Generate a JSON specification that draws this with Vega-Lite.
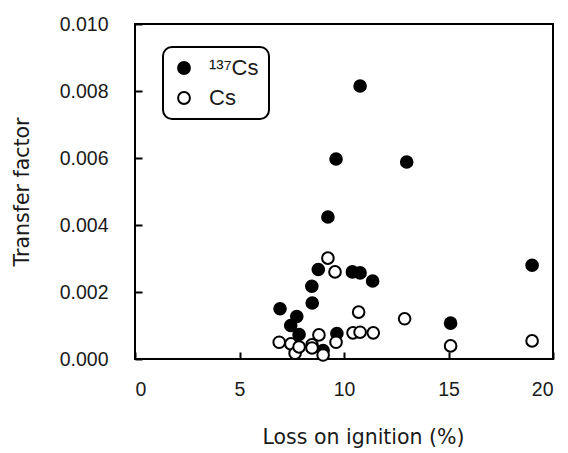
{
  "$schema": "https://vega.github.io/schema/vega-lite/v6.json",
  "width": 418,
  "height": 335,
  "autosize": "none",
  "padding": {"left": 135, "top": 24, "right": 15, "bottom": 94},
  "background": "white",
  "config": {
    "font": "Liberation Sans",
    "view": {"stroke": "black", "strokeWidth": 2},
    "legend": {"strokeWidth": 2},
    "axis": {"grid": false, "domain": false, "ticks": true, "tickColor": "black", "tickSize": -7, "tickWidth": 2,
      "labelFont": "Liberation Sans", "labelFontSize": 19.5, "labelColor": "#1a1a1a", "titleFont": "DejaVu Sans", "titleFontSize": 20.5, "titleFontWeight": "normal", "titleColor": "#1a1a1a"}
  },
  "data": {"values": [
    {"loi": 6.94, "tf": 0.00150, "nuclide": "¹³⁷Cs"},
    {"loi": 7.45, "tf": 0.00100, "nuclide": "¹³⁷Cs"},
    {"loi": 7.74, "tf": 0.00127, "nuclide": "¹³⁷Cs"},
    {"loi": 7.85, "tf": 0.00073, "nuclide": "¹³⁷Cs"},
    {"loi": 8.46, "tf": 0.00217, "nuclide": "¹³⁷Cs"},
    {"loi": 8.48, "tf": 0.00167, "nuclide": "¹³⁷Cs"},
    {"loi": 8.77, "tf": 0.00267, "nuclide": "¹³⁷Cs"},
    {"loi": 9.0, "tf": 0.00025, "nuclide": "¹³⁷Cs"},
    {"loi": 9.23, "tf": 0.00424, "nuclide": "¹³⁷Cs"},
    {"loi": 9.62, "tf": 0.00597, "nuclide": "¹³⁷Cs"},
    {"loi": 9.66, "tf": 0.00076, "nuclide": "¹³⁷Cs"},
    {"loi": 10.4, "tf": 0.00260, "nuclide": "¹³⁷Cs"},
    {"loi": 10.77, "tf": 0.00257, "nuclide": "¹³⁷Cs"},
    {"loi": 10.77, "tf": 0.00815, "nuclide": "¹³⁷Cs"},
    {"loi": 11.37, "tf": 0.00233, "nuclide": "¹³⁷Cs"},
    {"loi": 13.0, "tf": 0.00588, "nuclide": "¹³⁷Cs"},
    {"loi": 15.1, "tf": 0.00107, "nuclide": "¹³⁷Cs"},
    {"loi": 19.0, "tf": 0.00280, "nuclide": "¹³⁷Cs"},
    {"loi": 6.9, "tf": 0.00050, "nuclide": "Cs"},
    {"loi": 7.46, "tf": 0.00045, "nuclide": "Cs"},
    {"loi": 7.66, "tf": 0.00017, "nuclide": "Cs"},
    {"loi": 7.85, "tf": 0.00036, "nuclide": "Cs"},
    {"loi": 8.47, "tf": 0.00042, "nuclide": "Cs"},
    {"loi": 8.47, "tf": 0.00033, "nuclide": "Cs"},
    {"loi": 8.8, "tf": 0.00072, "nuclide": "Cs"},
    {"loi": 9.0, "tf": 0.00012, "nuclide": "Cs"},
    {"loi": 9.23, "tf": 0.00301, "nuclide": "Cs"},
    {"loi": 9.57, "tf": 0.00260, "nuclide": "Cs"},
    {"loi": 9.62, "tf": 0.00050, "nuclide": "Cs"},
    {"loi": 10.43, "tf": 0.00078, "nuclide": "Cs"},
    {"loi": 10.7, "tf": 0.00140, "nuclide": "Cs"},
    {"loi": 10.77, "tf": 0.00080, "nuclide": "Cs"},
    {"loi": 11.4, "tf": 0.00078, "nuclide": "Cs"},
    {"loi": 12.9, "tf": 0.00120, "nuclide": "Cs"},
    {"loi": 15.1, "tf": 0.00039, "nuclide": "Cs"},
    {"loi": 19.0, "tf": 0.00054, "nuclide": "Cs"}
  ]},
  "mark": {"type": "point", "shape": "circle", "filled": false, "stroke": "black", "strokeWidth": 2, "size": 135, "opacity": 1},
  "encoding": {
    "x": {"field": "loi", "type": "quantitative", "scale": {"domain": [0, 20], "nice": false, "zero": false},
      "axis": {"values": [0, 5, 10, 15, 20], "title": "Loss on ignition (%)", "labelPadding": 28, "titlePadding": 29, "titleX": 228, "format": "d"}},
    "y": {"field": "tf", "type": "quantitative", "scale": {"domain": [0, 0.01], "nice": false},
      "axis": {"values": [0, 0.002, 0.004, 0.006, 0.008, 0.01], "format": ".3f", "title": "Transfer factor", "labelPadding": 34, "titlePadding": 27}},
    "fill": {"field": "nuclide", "type": "nominal", "sort": ["¹³⁷Cs", "Cs"],
      "scale": {"domain": ["¹³⁷Cs", "Cs"], "range": ["black", "white"]},
      "legend": {"title": null, "orient": "none", "legendX": 28, "legendY": 23, "strokeColor": "black", "cornerRadius": 9,
        "padding": 10, "symbolSize": 140, "symbolStrokeColor": "black", "symbolStrokeWidth": 2, "labelFontSize": 22, "labelColor": "#1a1a1a", "labelOffset": 14, "rowPadding": 8, "fillColor": "white"}}
  }
}
